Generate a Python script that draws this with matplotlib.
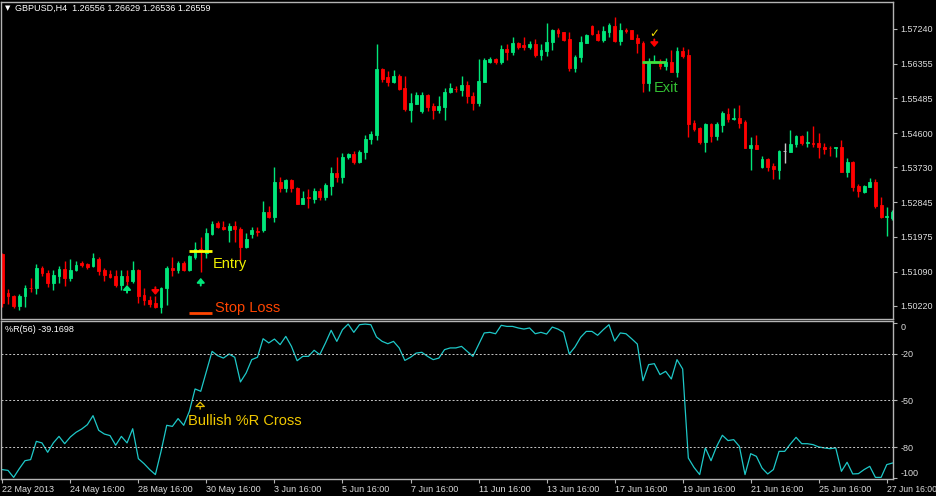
import matplotlib
matplotlib.use('Agg')
import matplotlib.pyplot as plt
import numpy as np

plt.rcParams['font.family'] = ['Liberation Sans', 'DejaVu Sans']

# GBPUSD H4 candles
opens = [1.5154, 1.5056, 1.5048, 1.5023, 1.5046, 1.5068, 1.5067, 1.5118, 1.5105, 1.5081,
         1.5099, 1.5116, 1.5094, 1.5112, 1.5130, 1.5129, 1.5122, 1.5141, 1.5112, 1.5103,
         1.5098, 1.5075, 1.5099, 1.5084, 1.5113, 1.5050, 1.5037, 1.5030, 1.5020, 1.5068,
         1.5118, 1.5112, 1.5130, 1.5113, 1.5147, 1.5167, 1.5156, 1.5204, 1.5232, 1.5223,
         1.5215, 1.5225, 1.5217, 1.5172, 1.5204, 1.5212, 1.5215, 1.5260, 1.5248, 1.5336,
         1.5320, 1.5341, 1.5322, 1.5281, 1.5297, 1.5293, 1.5314, 1.5297, 1.5327, 1.5360,
         1.5350, 1.5399, 1.5407, 1.5388, 1.5411, 1.5445, 1.5455, 1.5622, 1.5601, 1.5590,
         1.5605, 1.5575, 1.5519, 1.5534, 1.5516, 1.5557, 1.5529, 1.5519, 1.5527, 1.5563,
         1.5573, 1.5570, 1.5582, 1.5554, 1.5537, 1.5590, 1.5641, 1.5647, 1.5640, 1.5673,
         1.5666, 1.5688, 1.5682, 1.5677, 1.5685, 1.5658, 1.5669, 1.5690, 1.5721, 1.5715,
         1.5699, 1.5626, 1.5652, 1.5689, 1.5732, 1.5711, 1.5696, 1.5717, 1.5732, 1.5694,
         1.5721, 1.5720, 1.5700, 1.5689, 1.5586, 1.5639, 1.5640, 1.5629, 1.5639, 1.5616,
         1.5669, 1.5658, 1.5485, 1.5474, 1.5438, 1.5482, 1.5453, 1.5481, 1.5509, 1.5496,
         1.5499, 1.5487, 1.5423, 1.5430, 1.5373, 1.5394, 1.5377, 1.5367, 1.5414, 1.5413,
         1.5432, 1.5453, 1.5436, 1.5436, 1.5434, 1.5426, 1.5423, 1.5421, 1.5424, 1.5362,
         1.5388, 1.5326, 1.5312, 1.5324, 1.5335, 1.5278, 1.5248, 1.5244]
highs = [1.5156, 1.5064, 1.5050, 1.5053, 1.5075, 1.5094, 1.5129, 1.5123, 1.5112, 1.5113,
         1.5123, 1.5136, 1.5142, 1.5136, 1.5136, 1.5132, 1.5157, 1.5147, 1.5118, 1.5112,
         1.5113, 1.5112, 1.5113, 1.5136, 1.5116, 1.5067, 1.5046, 1.5046, 1.5071, 1.5123,
         1.5146, 1.5136, 1.5136, 1.5150, 1.5184, 1.5196, 1.5219, 1.5238, 1.5238, 1.5238,
         1.5232, 1.5238, 1.5223, 1.5206, 1.5222, 1.5222, 1.5289, 1.5276, 1.5375, 1.5350,
         1.5344, 1.5344, 1.5324, 1.5314, 1.5319, 1.5320, 1.5320, 1.5333, 1.5373, 1.5400,
         1.5409, 1.5409, 1.5415, 1.5417, 1.5455, 1.5466, 1.5686, 1.5624, 1.5618, 1.5620,
         1.5609, 1.5605, 1.5561, 1.5563, 1.5565, 1.5558, 1.5536, 1.5554, 1.5574, 1.5586,
         1.5580, 1.5605, 1.5593, 1.5565, 1.5648, 1.5650, 1.5654, 1.5651, 1.5683, 1.5685,
         1.5703, 1.5692, 1.5703, 1.5694, 1.5699, 1.5685, 1.5738, 1.5724, 1.5727, 1.5717,
         1.5715, 1.5658, 1.5706, 1.5710, 1.5734, 1.5721, 1.5732, 1.5740, 1.5753, 1.5740,
         1.5727, 1.5721, 1.5711, 1.5694, 1.5650, 1.5658, 1.5647, 1.5650, 1.5671, 1.5679,
         1.5678, 1.5673, 1.5493, 1.5475, 1.5485, 1.5485, 1.5488, 1.5517, 1.5523, 1.5523,
         1.5531, 1.5493, 1.5449, 1.5455, 1.5402, 1.5398, 1.5385, 1.5417, 1.5434, 1.5468,
         1.5455, 1.5455, 1.5466, 1.5478, 1.5460, 1.5436, 1.5428, 1.5426, 1.5443, 1.5398,
         1.5390, 1.5330, 1.5329, 1.5347, 1.5343, 1.5299, 1.5274, 1.5265]
lows = [1.5020, 1.5027, 1.5016, 1.5012, 1.5020, 1.5058, 1.5053, 1.5098, 1.5070, 1.5063,
        1.5080, 1.5073, 1.5084, 1.5110, 1.5120, 1.5115, 1.5120, 1.5101, 1.5086, 1.5092,
        1.5071, 1.5063, 1.5075, 1.5080, 1.5030, 1.5025, 1.5020, 1.5016, 1.5005, 1.5025,
        1.5098, 1.5105, 1.5110, 1.5110, 1.5141, 1.5109, 1.5143, 1.5202, 1.5220, 1.5215,
        1.5185, 1.5184, 1.5139, 1.5168, 1.5194, 1.5198, 1.5210, 1.5246, 1.5236, 1.5312,
        1.5312, 1.5312, 1.5280, 1.5280, 1.5271, 1.5284, 1.5291, 1.5291, 1.5303, 1.5337,
        1.5333, 1.5394, 1.5382, 1.5384, 1.5395, 1.5433, 1.5443, 1.5590, 1.5580, 1.5586,
        1.5568, 1.5517, 1.5487, 1.5533, 1.5512, 1.5517, 1.5496, 1.5512, 1.5493, 1.5561,
        1.5565, 1.5554, 1.5536, 1.5519, 1.5529, 1.5589, 1.5637, 1.5635, 1.5634, 1.5644,
        1.5658, 1.5673, 1.5671, 1.5673, 1.5654, 1.5646, 1.5656, 1.5671, 1.5703, 1.5694,
        1.5618, 1.5616, 1.5639, 1.5688, 1.5709, 1.5694, 1.5690, 1.5704, 1.5690, 1.5682,
        1.5713, 1.5698, 1.5664, 1.5565, 1.5567, 1.5637, 1.5623, 1.5620, 1.5615, 1.5603,
        1.5650, 1.5450, 1.5466, 1.5433, 1.5413, 1.5437, 1.5443, 1.5462, 1.5489, 1.5493,
        1.5474, 1.5422, 1.5367, 1.5419, 1.5372, 1.5364, 1.5344, 1.5344, 1.5384, 1.5412,
        1.5426, 1.5430, 1.5426, 1.5426, 1.5398, 1.5407, 1.5402, 1.5400, 1.5362, 1.5350,
        1.5314, 1.5297, 1.5309, 1.5323, 1.5270, 1.5244, 1.5200, 1.5240]
closes = [1.5030, 1.5046, 1.5023, 1.5048, 1.5068, 1.5067, 1.5118, 1.5105, 1.5081, 1.5101,
          1.5116, 1.5094, 1.5113, 1.5126, 1.5126, 1.5120, 1.5143, 1.5111, 1.5101, 1.5096,
          1.5075, 1.5099, 1.5084, 1.5113, 1.5048, 1.5037, 1.5027, 1.5020, 1.5068, 1.5118,
          1.5112, 1.5130, 1.5113, 1.5149, 1.5167, 1.5160, 1.5206, 1.5230, 1.5222, 1.5216,
          1.5225, 1.5216, 1.5172, 1.5192, 1.5215, 1.5210, 1.5259, 1.5248, 1.5336, 1.5320,
          1.5341, 1.5320, 1.5281, 1.5295, 1.5295, 1.5314, 1.5297, 1.5329, 1.5360, 1.5350,
          1.5400, 1.5407, 1.5388, 1.5412, 1.5446, 1.5458, 1.5622, 1.5597, 1.5590, 1.5605,
          1.5572, 1.5521, 1.5536, 1.5557, 1.5557, 1.5526, 1.5519, 1.5529, 1.5563, 1.5574,
          1.5571, 1.5582, 1.5554, 1.5537, 1.5592, 1.5645, 1.5647, 1.5639, 1.5673, 1.5666,
          1.5688, 1.5678, 1.5678, 1.5685, 1.5658, 1.5671, 1.5692, 1.5721, 1.5713, 1.5696,
          1.5626, 1.5654, 1.5690, 1.5709, 1.5711, 1.5696, 1.5719, 1.5734, 1.5694, 1.5721,
          1.5719, 1.5699, 1.5688, 1.5586, 1.5639, 1.5641, 1.5629, 1.5639, 1.5616, 1.5669,
          1.5656, 1.5483, 1.5470, 1.5438, 1.5483, 1.5453, 1.5483, 1.5510, 1.5495, 1.5499,
          1.5485, 1.5423, 1.5430, 1.5420, 1.5394, 1.5375, 1.5369, 1.5415, 1.5414, 1.5433,
          1.5453, 1.5436, 1.5438, 1.5433, 1.5426, 1.5420, 1.5421, 1.5425, 1.5362, 1.5386,
          1.5324, 1.5314, 1.5326, 1.5335, 1.5276, 1.5248, 1.5251, 1.5259]

# Williams %R(56)
wpr = [-94.3, -94.8, -99.3, -93.7, -88.6, -87.9, -76.2, -77.2, -83.2, -77.2,
       -73.0, -77.7, -73.4, -70.4, -68.3, -65.5, -59.7, -69.1, -71.5, -72.5,
       -78.7, -73.0, -77.2, -68.1, -87.3, -90.5, -94.3, -97.5, -82.6, -65.9,
       -66.6, -61.6, -65.9, -56.9, -42.6, -44.1, -31.3, -18.5, -21.3, -22.8,
       -20.2, -22.3, -38.1, -32.4, -23.8, -22.3, -10.4, -13.1, -10.6, -14.2,
       -8.9, -15.3, -24.5, -21.7, -21.7, -17.8, -20.6, -13.1, -5.0, -12.1,
       -4.6, -1.0, -6.3, -1.4, -1.0, -1.4, -9.3, -12.1, -13.6, -12.1,
       -16.3, -24.3, -22.3, -19.6, -19.1, -21.7, -23.8, -22.8, -17.4, -16.3,
       -16.3, -15.3, -18.5, -21.7, -14.2, -6.7, -6.3, -7.2, -1.8, -2.5,
       -2.5, -3.5, -4.2, -3.5, -7.2, -6.3, -7.4, -2.9, -4.2, -6.3,
       -20.2, -15.7, -9.5, -5.7, -5.7, -8.2, -4.6, -1.4, -11.9, -6.7,
       -7.2, -10.4, -13.8, -37.3, -27.0, -26.4, -33.4, -31.3, -36.2, -23.8,
       -29.8, -86.9, -92.9, -97.5, -80.4, -88.6, -79.4, -72.3, -75.7, -75.1,
       -79.4, -97.5, -84.1, -85.8, -93.3, -97.1, -94.3, -82.6, -82.6, -77.9,
       -73.6, -77.7, -77.7, -78.3, -79.8, -80.4, -80.9, -80.4, -95.4, -89.6,
       -97.1, -96.9, -94.3, -92.2, -99.3, -99.3, -91.1, -90.1]

price_ticks = [1.57240, 1.56355, 1.55485, 1.54600, 1.53730, 1.52845, 1.51975, 1.51090, 1.50220]
wpr_levels = [-20, -50, -80]
wpr_ticks = [0, -20, -50, -80, -100]
date_labels = ['22 May 2013', '24 May 16:00', '28 May 16:00', '30 May 16:00', '3 Jun 16:00',
               '5 Jun 16:00', '7 Jun 16:00', '11 Jun 16:00', '13 Jun 16:00', '17 Jun 16:00',
               '19 Jun 16:00', '21 Jun 16:00', '25 Jun 16:00', '27 Jun 16:00']

# trade markers
entry_price = 1.5161
stop_price = 1.5004
exit_price = 1.5640
up_sig_bars = [22, 35]
up_sig_prices = [1.5075, 1.5093]
down_sig_bars = [27, 115]
down_sig_prices = [1.5050, 1.5678]

BG = 'black'
UP = '#00e67a'
DN = '#ff0000'
FRAME = '#b4b4b4'
TXT = '#dcdcdc'

fig = plt.figure(figsize=(9.36, 4.96), dpi=100, facecolor=BG)
ax = fig.add_axes([0.00107, 0.3569, 0.9533, 0.6397])
ax2 = fig.add_axes([0.00107, 0.0333, 0.9533, 0.3189])

o = np.array(opens)
h = np.array(highs)
l = np.array(lows)
c = np.array(closes)
x = np.arange(len(o))
cols = np.where(c > o, UP, np.where(c < o, DN, '#c8c8c8'))

ax.vlines(x, l, h, colors=cols, lw=1)
ax.bar(x, np.abs(c - o), bottom=np.minimum(o, c), width=0.5,
       color=cols, edgecolor=cols, lw=0.6)

for a in (ax, ax2):
    a.set_facecolor(BG)
    a.set_xlim(-0.23, 157.15)
    for s in a.spines.values():
        s.set_color(FRAME)
        s.set_linewidth(1)

ax.set_ylim(1.4989, 1.5793)
ax.yaxis.tick_right()
ax.set_yticks(price_ticks)
ax.set_yticklabels([f'{p:.5f}' for p in price_ticks])
ax.tick_params(axis='y', colors=FRAME, labelcolor=TXT, labelsize=6.5, length=3, pad=2)
ax.set_xticks([])

# entry / stop / exit
ax.hlines(entry_price, 32.9, 37.05, colors='#ffff00', lw=2)
ax.hlines(stop_price, 32.9, 37.05, colors='#ff4500', lw=2)
ax.hlines(exit_price, 112.8, 117.0, colors='#3ee03e', lw=2)
ax.text(37.1, 1.5118, 'Entry', color='#f0f000', fontsize=10.5, ha='left', va='baseline')
ax.text(37.5, 1.5007, 'Stop Loss', color='#ff4500', fontsize=10.5, ha='left', va='baseline')
ax.text(114.9, 1.5564, 'Exit', color='#33c033', fontsize=10.5, ha='left', va='baseline')

# signal arrows
for b, p in zip(up_sig_bars, up_sig_prices):
    ax.annotate('', xy=(b, p), xytext=(0, -5.5), textcoords='offset points',
                arrowprops=dict(arrowstyle='-|>,head_width=0.22,head_length=0.25',
                                color=UP, lw=1.4, shrinkA=0, shrinkB=0))
for b, p in zip(down_sig_bars, down_sig_prices):
    ax.annotate('', xy=(b, p), xytext=(0, 5.5), textcoords='offset points',
                arrowprops=dict(arrowstyle='-|>,head_width=0.22,head_length=0.25',
                                color=DN, lw=1.4, shrinkA=0, shrinkB=0))
ax.text(115, 1.5713, '✓', color='#f0e000', fontsize=8.5, fontweight='bold',
        ha='center', va='center', family=['DejaVu Sans'])

# Williams %R panel
ax2.plot(x, wpr, color='#1ec8c8', lw=0.9)
for lev in wpr_levels:
    ax2.axhline(lev, color='#c8c8c8', lw=0.7, ls=(0, (2, 2)))
ax2.set_ylim(-100.64, 0.77)
ax2.yaxis.tick_right()
ax2.set_yticks(wpr_ticks)
ax2.set_yticklabels([str(v) for v in wpr_ticks])
ylabs = ax2.get_yticklabels()
ylabs[0].set_va('top')
ylabs[-1].set_va('bottom')
ax2.tick_params(axis='y', colors=FRAME, labelcolor=TXT, labelsize=6.5, length=3, pad=2)
ax2.set_xticks(np.arange(0, 157, 12))
ax2.set_xticklabels(date_labels, ha='left')
ax2.tick_params(axis='x', colors=FRAME, labelcolor=TXT, labelsize=6.5, length=3, pad=1)
ax2.get_xticklabels()[-1].set_fontsize(6.2)

# hollow up arrow under the cross
ax2.annotate('', xy=(34.9, -50.6), xytext=(0, -5.5), textcoords='offset points',
             arrowprops=dict(arrowstyle='-|>,head_width=0.3,head_length=0.3',
                             fc='black', ec='#e8c000', lw=0.9, shrinkA=0, shrinkB=0))
ax2.text(32.7, -65.9, 'Bullish %R Cross', color='#f0c800', fontsize=10.5,
         ha='left', va='baseline')

fig.text(5 / 936, 1 - 8.5 / 496, '▼', color='white', fontsize=5, va='center',
         family=['DejaVu Sans'])
fig.text(15 / 936, 1 - 8.5 / 496, 'GBPUSD,H4  1.26556 1.26629 1.26536 1.26559',
         color='white', fontsize=6.5, va='center')
fig.text(5 / 936, 1 - 329.5 / 496, '%R(56) -39.1698', color='white', fontsize=6.5, va='center')

fig.savefig('out.png', dpi=100, facecolor=BG)
